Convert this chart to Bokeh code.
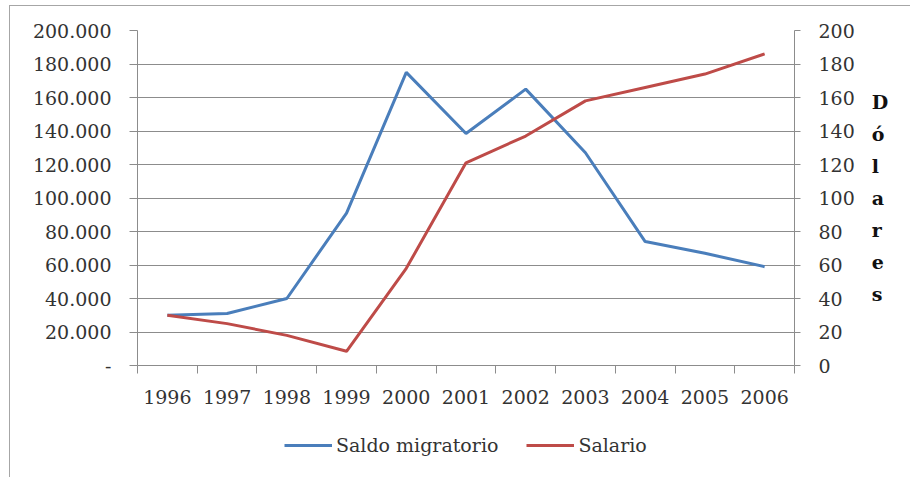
from bokeh.plotting import figure
from bokeh.layouts import column
from bokeh.models import Range1d, LinearAxis, FixedTicker, Legend, LegendItem, ColumnDataSource
from bokeh.embed import file_html
from bokeh.resources import INLINE

years = ["1996", "1997", "1998", "1999", "2000", "2001", "2002", "2003", "2004", "2005", "2006"]
saldo_migratorio = [30000, 31000, 40000, 91000, 175000, 138500, 165000, 127000, 74000, 67000, 59000]
salario = [30, 25, 18, 8.5, 58, 121, 137, 158, 166, 174, 186]
left_ticks = [0, 20000, 40000, 60000, 80000, 100000, 120000, 140000, 160000, 180000, 200000]
right_ticks = [0, 20, 40, 60, 80, 100, 120, 140, 160, 180, 200]
right_title = "Dólares"
series_names = ["Saldo migratorio", "Salario"]

FONT = "DejaVu Serif"
GRAY = "#8c8c8c"
TXT = "#333333"
BLUE = "#4a7ebb"
RED = "#be4b48"

pos = [i + 0.5 for i in range(len(years))]
src = ColumnDataSource(dict(x=pos, saldo=saldo_migratorio, salario=salario))

p = figure(width=910, height=420, output_backend="svg", toolbar_location=None,
           x_range=Range1d(0, len(years)), y_range=Range1d(0, 200000),
           min_border_left=137, min_border_right=116, min_border_top=30, min_border_bottom=55)
p.extra_y_ranges = {"usd": Range1d(0, 200)}
p.outline_line_color = None
p.background_fill_color = "white"
p.border_fill_color = None

p.line("x", "saldo", source=src, line_color=BLUE, line_width=3)
p.line("x", "salario", source=src, line_color=RED, line_width=3, y_range_name="usd")

# x axis: labels at category centres, tick marks between categories
xa = p.xaxis[0]
xa.ticker = FixedTicker(ticks=pos, minor_ticks=list(range(len(years) + 1)))
xa.major_label_overrides = {pos[i]: years[i] for i in range(len(years))}
xa.major_tick_out = 0
xa.major_tick_in = 0
xa.minor_tick_out = 8
xa.minor_tick_in = 0
xa.minor_tick_line_color = GRAY
xa.axis_line_color = GRAY
xa.major_label_standoff = 16
xa.major_label_text_font = FONT
xa.major_label_text_font_size = "19px"
xa.major_label_text_color = TXT
p.xgrid.visible = False

# left axis
ya = p.yaxis[0]
ya.ticker = FixedTicker(ticks=left_ticks)
ya.major_label_overrides = {v: ("-" if v == 0 else f"{v:,}".replace(",", ".")) for v in left_ticks}
ya.major_tick_out = 8
ya.major_tick_in = 0
ya.major_tick_line_color = GRAY
ya.minor_tick_line_color = None
ya.axis_line_color = GRAY
ya.major_label_standoff = 18
ya.major_label_text_font = FONT
ya.major_label_text_font_size = "19px"
ya.major_label_text_color = TXT
p.ygrid.ticker = FixedTicker(ticks=left_ticks)
p.ygrid.grid_line_color = GRAY
p.ygrid.grid_line_width = 1

# right axis with stacked title
ra = LinearAxis(y_range_name="usd", ticker=FixedTicker(ticks=right_ticks))
ra.major_tick_out = 6
ra.major_tick_in = 0
ra.major_tick_line_color = GRAY
ra.minor_tick_line_color = None
ra.axis_line_color = GRAY
ra.major_label_standoff = 18
ra.major_label_text_font = FONT
ra.major_label_text_font_size = "19px"
ra.major_label_text_color = TXT
ra.axis_label = "\n".join(right_title)
ra.axis_label_orientation = "horizontal"
ra.axis_label_text_align = "center"
ra.axis_label_text_font = FONT
ra.axis_label_text_font_style = "bold"
ra.axis_label_text_font_size = "19px"
ra.axis_label_text_line_height = 1.45
ra.axis_label_text_color = "#111111"
ra.axis_label_standoff = 14
p.add_layout(ra, "right")

# legend strip below the chart (its frame is aligned with the chart's frame);
# the series are drawn outside its visible y range so only the legend shows
lg = figure(width=910, height=57, output_backend="svg", toolbar_location=None,
            x_range=Range1d(0, len(years)), y_range=Range1d(-2, -1),
            x_axis_location=None, y_axis_location=None, min_border=0)
lg.outline_line_color = None
lg.grid.visible = False
lg.background_fill_color = None
lg.border_fill_color = None
k1 = lg.line("x", "saldo", source=src, line_color=BLUE, line_width=3)
k2 = lg.line("x", "salario", source=src, line_color=RED, line_width=3)
legend = Legend(items=[LegendItem(label=series_names[0], renderers=[k1]),
                       LegendItem(label=series_names[1], renderers=[k2])],
                orientation="horizontal", location=(147, 21))
legend.border_line_color = None
legend.background_fill_alpha = 0
legend.label_text_font = FONT
legend.label_text_font_size = "19px"
legend.label_text_color = TXT
legend.glyph_width = 48
legend.label_standoff = 4
legend.spacing = 28
legend.margin = 0
legend.padding = 4
lg.add_layout(legend)

layout = column(p, lg, spacing=0)
# thin grey chart-area border (top and left edges) painted behind the transparent canvases
layout.styles = {
    "background-color": "white",
    "background-image": "linear-gradient(#a6a6a6, #a6a6a6), linear-gradient(#a6a6a6, #a6a6a6)",
    "background-position": "9px 5px, 9px 5px",
    "background-size": "1px 100%, 100% 1px",
    "background-repeat": "no-repeat, no-repeat",
}
open("out.html", "w").write(file_html(layout, INLINE))
